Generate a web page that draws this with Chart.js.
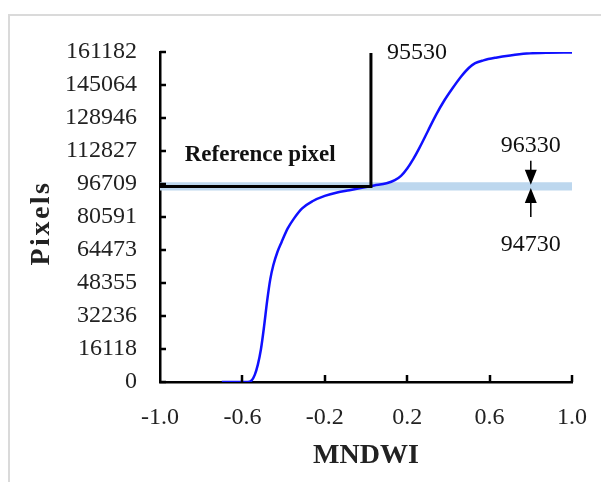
<!DOCTYPE html>
<html>
<head>
<meta charset="utf-8">
<script src="https://cdn.jsdelivr.net/npm/chart.js@4.4.1/dist/chart.umd.min.js"></script>
<style>
  html, body { margin: 0; padding: 0; background: #fff; }
  #frame {
    position: absolute; left: 8px; top: 14px; width: 700px; height: 600px;
    border: 2px solid #dadada;
  }
  #chart { position: absolute; left: 0; top: 0; }
</style>
</head>
<body>
<div id="frame"></div>
<canvas id="chart" width="601" height="482"></canvas>
<script>
// cumulative pixel count against MNDWI
var mndwi  = [-0.70, -0.575, -0.555, -0.54, -0.525, -0.51, -0.495, -0.48, -0.465, -0.45,
              -0.43, -0.41, -0.38, -0.35, -0.31, -0.26, -0.20, -0.14, -0.08, -0.02,
              0.04, 0.10, 0.14, 0.17, 0.20, 0.23, 0.26, 0.30, 0.34, 0.38,
              0.42, 0.46, 0.50, 0.53, 0.57, 0.63, 0.70, 0.78, 0.88, 1.00];
var pixels = [0, 0, 800, 3500, 8500, 16000, 27000, 39500, 50000, 57000,
              63500, 68300, 75000, 79800, 84800, 88300, 90900, 92600, 93700, 94900,
              96000, 97100, 98600, 100700, 104300, 109000, 114500, 122500, 130500, 137500,
              143500, 149000, 153500, 155700, 157100, 158400, 159500, 160400, 160800, 160900];

// reference pixel and its tolerance band
var refX     = [-1.0, 0.024, 0.024];
var refY     = [95530, 95530, 160700];
var bandX    = [-1.0, 1.0];
var bandHigh = [96330, 96330];
var bandLow  = [94730, 94730];
var arrowX   = 0.8;

var yMax  = 161182;
var yStep = yMax / 10;

function pts(xs, ys) {
    return xs.map(function(x, i){ return {x: x, y: ys[i]}; });
}

var serif = "'Liberation Serif', 'Times New Roman', serif";

// ticks drawn inward, plus labels and arrows
var extras = {
    id: 'extras',
    afterDraw: function(chart) {
        var ctx = chart.ctx;
        var xs = chart.scales.x, ys = chart.scales.y;
        ctx.save();
        ctx.strokeStyle = '#000';
        ctx.lineWidth = 2.5;
        ctx.beginPath();
        ys.ticks.forEach(function(t){
            var py = Math.round(ys.getPixelForValue(t.value));
            ctx.moveTo(xs.left, py);
            ctx.lineTo(xs.left + 6, py);
        });
        xs.ticks.forEach(function(t){
            if (t.value <= -1) return;
            var px = Math.round(xs.getPixelForValue(t.value));
            ctx.moveTo(px, ys.bottom);
            ctx.lineTo(px, ys.bottom - 7);
        });
        ctx.stroke();

        ctx.fillStyle = '#111';
        ctx.textBaseline = 'middle';
        ctx.font = 'bold 23px ' + serif;
        ctx.textAlign = 'left';
        ctx.fillText('Reference pixel', xs.getPixelForValue(-0.88), ys.getPixelForValue(111000));

        ctx.font = '24px ' + serif;
        ctx.fillText('95530', xs.getPixelForValue(refX[1]) + 16, ys.getPixelForValue(160700));

        var ax = xs.getPixelForValue(arrowX);
        var hi = ys.getPixelForValue(bandHigh[0]);
        var lo = ys.getPixelForValue(bandLow[0]);
        ctx.textAlign = 'center';
        ctx.fillText('96330', ax, hi - 39);
        ctx.fillText('94730', ax, lo + 57);

        // arrows pointing at the band edges
        ctx.fillStyle = '#000';
        ctx.lineWidth = 1.5;
        ctx.beginPath();
        ctx.moveTo(ax, hi - 24); ctx.lineTo(ax, hi - 12);
        ctx.moveTo(ax, lo + 12); ctx.lineTo(ax, lo + 29);
        ctx.stroke();
        ctx.beginPath();
        ctx.moveTo(ax - 6, hi - 15); ctx.lineTo(ax + 6, hi - 15); ctx.lineTo(ax, hi); ctx.closePath();
        ctx.moveTo(ax - 6, lo + 15); ctx.lineTo(ax + 6, lo + 15); ctx.lineTo(ax, lo); ctx.closePath();
        ctx.fill();

        // y axis title, letter-spaced
        ctx.translate(42, (ys.top + ys.bottom) / 2 + 6);
        ctx.rotate(-Math.PI / 2);
        ctx.fillStyle = '#222';
        ctx.font = 'bold 28px ' + serif;
        ctx.letterSpacing = '2.5px';
        ctx.fillText('Pixels', 0, 0);
        ctx.restore();
    }
};

new Chart(document.getElementById('chart').getContext('2d'), {
    type: 'line',
    data: {
        datasets: [
            { data: pts(refX, refY), borderColor: '#000', borderWidth: 3, pointRadius: 0, tension: 0 },
            { data: pts(mndwi, pixels), borderColor: '#1010ff', borderWidth: 2.5, pointRadius: 0,
              cubicInterpolationMode: 'monotone' },
            { data: pts(bandX, bandHigh), borderColor: '#bdd7ee', borderWidth: 5, pointRadius: 0,
              fill: '+1', backgroundColor: '#bdd7ee' },
            { data: pts(bandX, bandLow), borderColor: '#bdd7ee', borderWidth: 5, pointRadius: 0 }
        ]
    },
    options: {
        responsive: false,
        animation: false,
        layout: { padding: { top: 52, right: 29, left: 0, bottom: 0 } },
        plugins: { legend: { display: false }, tooltip: { enabled: false } },
        scales: {
            x: {
                type: 'linear', min: -1, max: 1,
                afterFit: function(s){ s.height = 100; },
                grid: { display: false },
                border: { display: true, color: '#000', width: 2.5 },
                ticks: {
                    stepSize: 0.4, color: '#222', padding: 13,
                    font: { family: serif, size: 24 },
                    callback: function(v){ return v.toFixed(1); }
                },
                title: { display: true, text: 'MNDWI', color: '#222',
                         font: { family: serif, size: 28, weight: 'bold' },
                         padding: { top: 0, bottom: 9 } }
            },
            y: {
                min: 0, max: yMax,
                afterFit: function(s){ s.width = 160; },
                grid: { display: false },
                border: { display: true, color: '#000', width: 2.5 },
                ticks: {
                    stepSize: yStep, color: '#222', padding: 15,
                    font: { family: serif, size: 24 },
                    callback: function(v){ return Math.round(v); }
                }
            }
        }
    },
    plugins: [extras]
});
</script>
</body>
</html>
